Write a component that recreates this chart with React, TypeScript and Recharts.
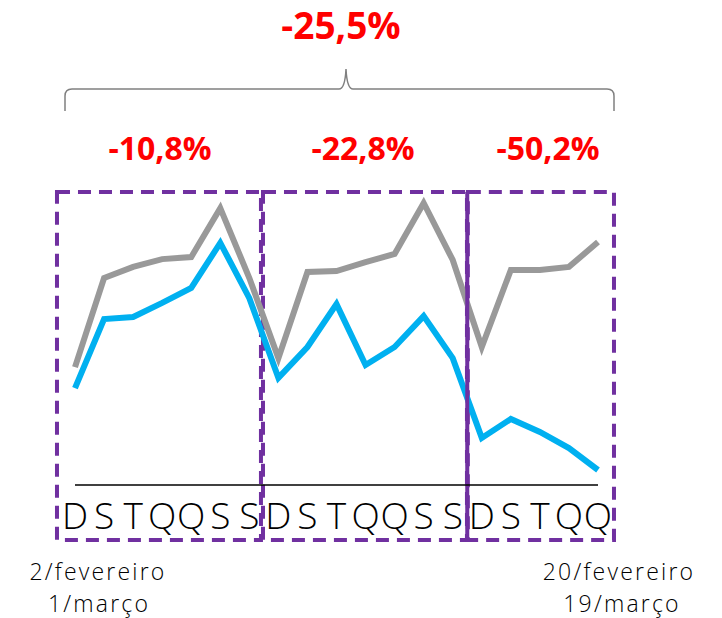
import { LineChart, Line, XAxis, YAxis, ReferenceArea, ReferenceLine } from "recharts";

// dias da semana, 19 dias (3 semanas incompletas)
const days = ["D", "S", "T", "Q", "Q", "S", "S", "D", "S", "T", "Q", "Q", "S", "S", "D", "S", "T", "Q", "Q"];
const grayValues = [39.3, 69, 72.7, 75.3, 76, 92.3, 69, 42.3, 71, 71.3, 74.3, 77, 94, 75, 46, 71.7, 71.7, 72.7, 81];
const blueValues = [32.3, 55.3, 56, 60.7, 65.7, 80.7, 62.3, 35.7, 46, 60.3, 40, 46, 56.3, 42.3, 15.7, 22, 17.7, 12.3, 5];

const groupLabels = ["-10,8%", "-22,8%", "-50,2%"];
const totalLabel = "-25,5%";
const startLabel = ["2/fevereiro", "1/março"];
const endLabel = ["20/fevereiro", "19/março"];

const data = days.map((d, i) => ({ i, day: d, gray: grayValues[i], blue: blueValues[i] }));

const W = 722;
const H = 618;
const purple = "#7030A0";
const font = "'Open Sans', 'DejaVu Sans', sans-serif";

// caixas tracejadas (em unidades do eixo)
const boxTop = 97.7;
const boxBottom = -18.3;
const boxes = [
  [-0.62, 6.4],
  [6.47, 13.49],
  [13.52, 18.55],
];

export default function App() {
  return (
    <div style={{ position: "absolute", left: 0, top: 0, width: W, height: H, background: "#fff" }}>
      <LineChart width={W} height={H} data={data} margin={{ top: 185, right: 124, bottom: 103, left: 75 }}>
        <XAxis
          type="number"
          dataKey="i"
          domain={[0, 18]}
          ticks={days.map((_, i) => i)}
          interval={0}
          tickFormatter={(v: number) => days[v]}
          tickLine={false}
          tickMargin={12}
          height={30}
          axisLine={{ stroke: "#000", strokeWidth: 1.5 }}
          tick={{ fontSize: 37, fill: "#000", fontFamily: font, fontWeight: 300 }}
        />
        <YAxis hide domain={[0, 100]} />
        <Line dataKey="gray" stroke="#999999" strokeWidth={6} dot={false} isAnimationActive={false} />
        <Line dataKey="blue" stroke="#00B0F0" strokeWidth={6} dot={false} isAnimationActive={false} />
        {boxes.map(([a, b], k) => (
          <ReferenceArea
            key={k}
            x1={a}
            x2={b}
            y1={boxBottom}
            y2={boxTop}
            ifOverflow="visible"
            fill="none"
            fillOpacity={0}
            stroke={purple}
            strokeWidth={4}
            strokeDasharray="13 8"
          />
        ))}
        <ReferenceLine
          segment={[
            { x: 13.5, y: boxTop },
            { x: 13.5, y: boxBottom },
          ]}
          ifOverflow="visible"
          stroke={purple}
          strokeWidth={4}
        />
      </LineChart>
      <svg width={W} height={H} style={{ position: "absolute", left: 0, top: 0, pointerEvents: "none" }}>
        <path
          d="M65,111 L65,96 Q65,89 72,89 L339,89 Q345,89 346,69 Q347,89 353,89 L607,89 Q614,89 614,96 L614,111"
          fill="none"
          stroke="#808080"
          strokeWidth={1.5}
        />
        <text x={341} y={39} textAnchor="middle" fill="#FF0000" fontSize={37} fontWeight={700} fontFamily={font}>
          {totalLabel}
        </text>
        {[160, 363, 548].map((x, k) => (
          <text key={k} x={x} y={160} textAnchor="middle" fill="#FF0000" fontSize={32} fontWeight={700} fontFamily={font}>
            {groupLabels[k]}
          </text>
        ))}
        <g fontFamily={font} fontSize={23} fontWeight={300} fill="#000" textAnchor="middle" letterSpacing={2.2}>
          <text x={98} y={580}>{startLabel[0]}</text>
          <text x={99} y={612}>{startLabel[1]}</text>
          <text x={619} y={580}>{endLabel[0]}</text>
          <text x={622} y={612}>{endLabel[1]}</text>
        </g>
      </svg>
    </div>
  );
}
